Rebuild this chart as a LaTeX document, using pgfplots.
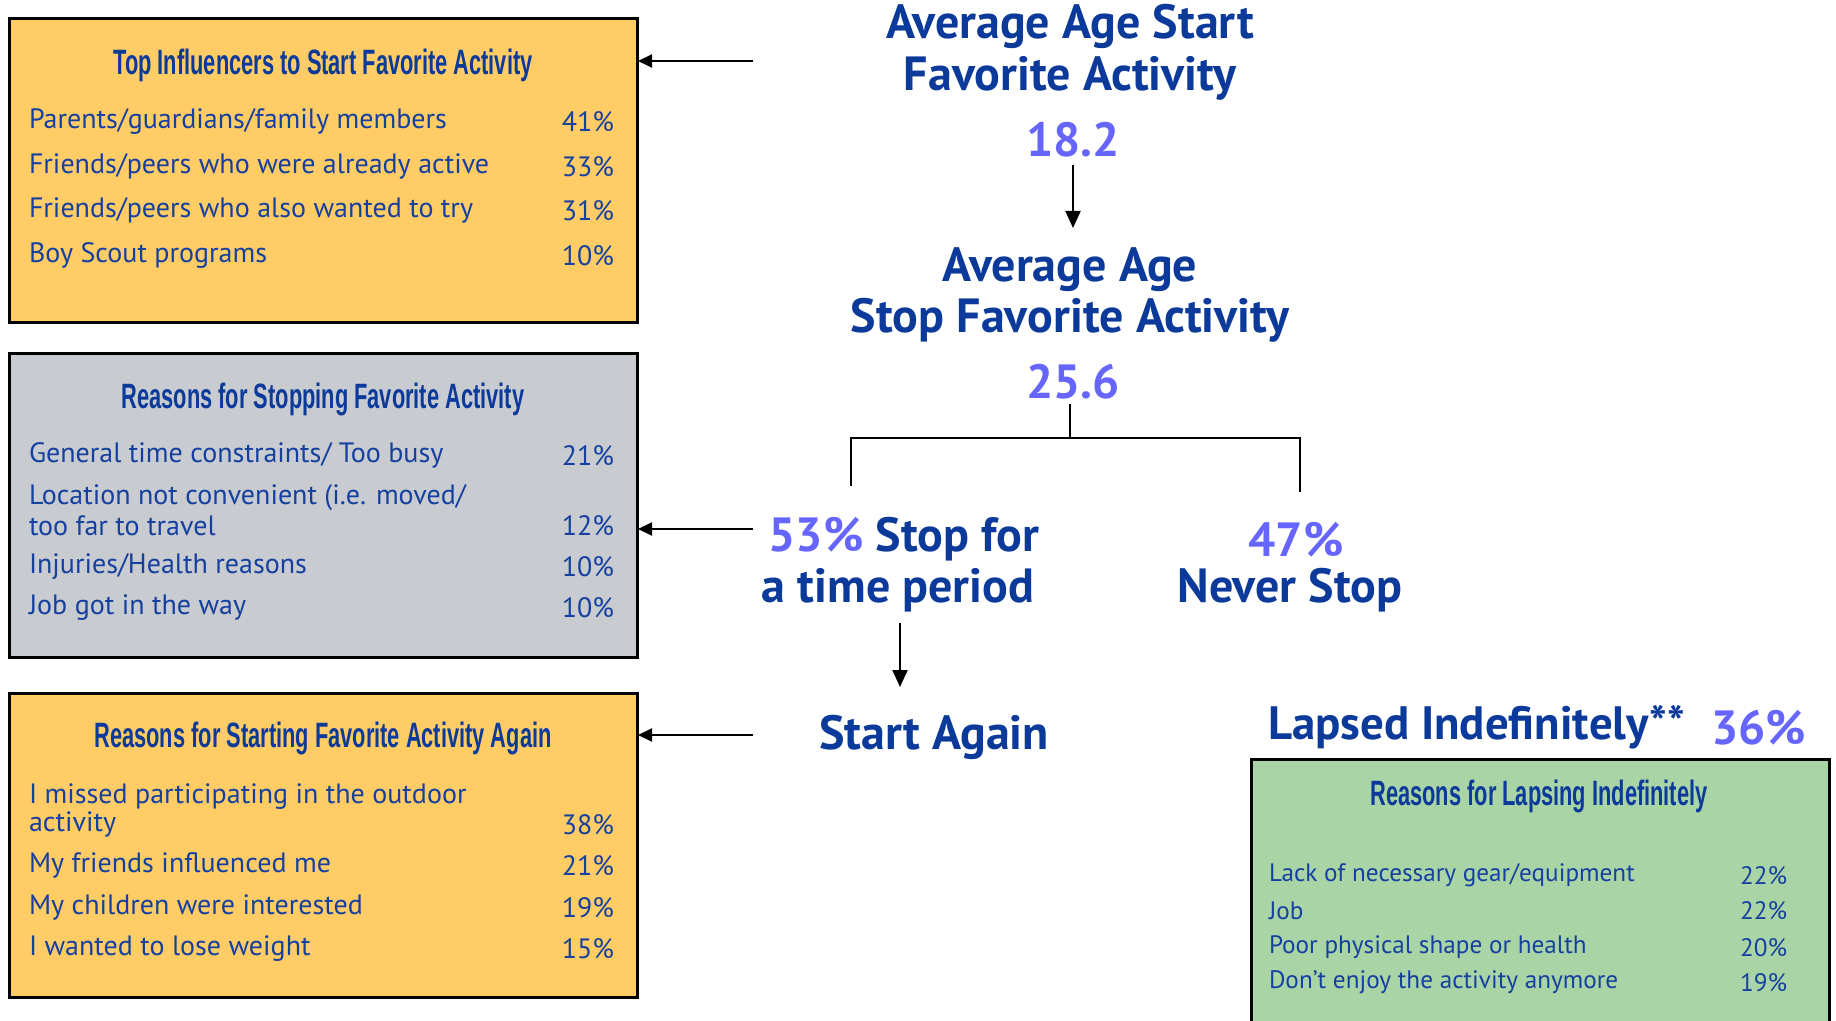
\documentclass[border=0pt]{standalone}
\usepackage{pgfplots}
\pgfplotsset{compat=1.18}
\usetikzlibrary{arrows.meta}
\usepackage{fontspec}
\setmainfont{PT Sans}
\newfontfamily\headfont{PT Sans}
\newfontfamily\titlefont[FakeStretch=0.62]{Liberation Sans}

\definecolor{navy}{HTML}{0B3A9A}
\definecolor{rowblue}{HTML}{16409F}
\definecolor{lilac}{HTML}{6666FF}
\definecolor{boxorange}{HTML}{FFCC66}
\definecolor{boxgray}{HTML}{C8CBCF}
\definecolor{boxgreen}{HTML}{A9D4A6}

\begin{document}
\begin{tikzpicture}[every node/.style={inner sep=0pt, outer sep=0pt, text=rowblue, yshift=-1.75pt}]
\begin{axis}[
    scale only axis, width=918pt, height=510.5pt,
    xmin=0, xmax=1836, ymin=0, ymax=1021, y dir=reverse,
    hide axis, clip=false,
]
% canvas
\fill[white] (0,0) rectangle (1836,1021);

% boxes
\draw[line width=1.5pt, fill=boxorange] (9,19) rectangle (637,323);
\draw[line width=1.5pt, fill=boxgray] (9,354) rectangle (637,657);
\draw[line width=1.5pt, fill=boxorange] (9,693) rectangle (637,997);
\fill[boxgreen] (1251,759) rectangle (1829,1021);
\draw[line width=1.5pt] (1251,1021) -- (1251,759) -- (1829,759) -- (1829,1021);

% connectors
\addplot[mark=none, black, line width=1pt] coordinates {(1070,404) (1070,438)};
\addplot[mark=none, black, line width=1pt] coordinates {(851,486) (851,438) (1300,438) (1300,492)};
\addplot[mark=none, black, line width=1pt, -{Triangle[length=8.5pt,width=7.5pt]}] coordinates {(1073,165) (1073,228)};
\addplot[mark=none, black, line width=1pt, -{Triangle[length=8.5pt,width=7.5pt]}] coordinates {(900,623) (900,687)};
\addplot[mark=none, black, line width=1pt, -{Triangle[length=7pt,width=6.5pt]}] coordinates {(753,61) (638,61)};
\addplot[mark=none, black, line width=1pt, -{Triangle[length=7pt,width=6.5pt]}] coordinates {(753,529) (638,529)};
\addplot[mark=none, black, line width=1pt, -{Triangle[length=7pt,width=6.5pt]}] coordinates {(753,735) (638,735)};

% box titles
\begin{scope}[every node/.append style={text=navy, font=\titlefont\bfseries\fontsize{17.6}{20}\selectfont}]
\node at (323,62) {Top Influencers to Start Favorite Activity};
\node at (323,396) {Reasons for Stopping Favorite Activity};
\node at (323,735) {Reasons for Starting Favorite Activity Again};
\node at (1539,793) {Reasons for Lapsing Indefinitely};
\end{scope}

% box rows
\begin{scope}[every node/.append style={font=\fontsize{14}{17}\selectfont}]
\node[anchor=west] at (29,118) {Parents/guardians/family members};
\node[anchor=east] at (614,118) {41\%};
\node[anchor=west] at (29,163) {Friends/peers who were already active};
\node[anchor=east] at (614,163) {33\%};
\node[anchor=west] at (29,207) {Friends/peers who also wanted to try};
\node[anchor=east] at (614,207) {31\%};
\node[anchor=west] at (29,252) {Boy Scout programs};
\node[anchor=east] at (614,252) {10\%};

\node[anchor=west] at (29,452) {General time constraints/ Too busy};
\node[anchor=east] at (614,452) {21\%};
\node[anchor=west] at (29,494) {Location not convenient (i.e. moved/};
\node[anchor=west] at (29,522) {too far to travel};
\node[anchor=east] at (614,522) {12\%};
\node[anchor=west] at (29,563) {Injuries/Health reasons};
\node[anchor=east] at (614,563) {10\%};
\node[anchor=west] at (29,604) {Job got in the way};
\node[anchor=east] at (614,604) {10\%};

\node[anchor=west] at (29,793) {I missed participating in the outdoor};
\node[anchor=west] at (29,821) {activity};
\node[anchor=east] at (614,821) {38\%};
\node[anchor=west] at (29,862) {My friends influenced me};
\node[anchor=east] at (614,862) {21\%};
\node[anchor=west] at (29,904) {My children were interested};
\node[anchor=east] at (614,904) {19\%};
\node[anchor=west] at (29,945) {I wanted to lose weight};
\node[anchor=east] at (614,945) {15\%};
\end{scope}

\begin{scope}[every node/.append style={font=\fontsize{12.6}{15}\selectfont}]
\node[anchor=west] at (1269,872) {Lack of necessary gear/equipment};
\node[anchor=east] at (1787,872) {22\%};
\node[anchor=west] at (1269,907) {Job};
\node[anchor=east] at (1787,907) {22\%};
\node[anchor=west] at (1269,944) {Poor physical shape or health};
\node[anchor=east] at (1787,944) {20\%};
\node[anchor=west] at (1269,979) {Don't enjoy the activity anymore};
\node[anchor=east] at (1787,979) {19\%};
\end{scope}

% headings
\begin{scope}[every node/.append style={text=navy, font=\headfont\bfseries\fontsize{24}{28}\selectfont}]
\node at (1070,23) {Average Age Start};
\node at (1070,75) {Favorite Activity};
\node[text=lilac] at (1073,136) {18.2};
\node at (1070,266) {Average Age};
\node at (1070,317) {Stop Favorite Activity};
\node[text=lilac] at (1073,378) {25.6};
\node at (904,536) {\textcolor{lilac}{53\%} Stop for};
\node at (898,587) {a time period};
\node[text=lilac] at (1296,536) {47\%};
\node at (1290,587) {Never Stop};
\node at (934,734) {Start Again};
\node[anchor=west, font=\headfont\bfseries\fontsize{23.4}{28}\selectfont] at (1268,724) {Lapsed Indefinitely**};
\node[anchor=east, text=lilac] at (1806,724) {36\%};
\end{scope}
\end{axis}
\pgfresetboundingbox
\path (current axis.south west) rectangle (current axis.north east);
\end{tikzpicture}
\end{document}
